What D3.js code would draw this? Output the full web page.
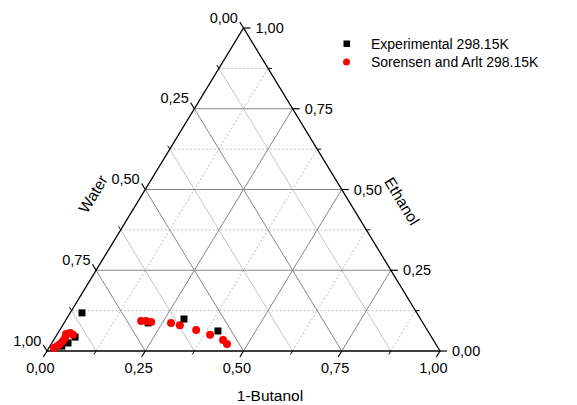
<!DOCTYPE html>
<html>
<head>
<meta charset="utf-8">
<script src="https://cdn.jsdelivr.net/npm/d3@7"></script>
<style>
  body { margin: 0; background: #fff; }
  text { font-family: "Liberation Sans", Arial, sans-serif; font-size: 14.5px; fill: #000; }
  .title { font-size: 15.5px; }
  .legend text { font-size: 14px; }
</style>
</head>
<body>
<div id="chart-area"></div>
<script>
// ternary compositions (mass fractions)
const expButanol = [0.030, 0.299, 0.404, 0.214, 0.050, 0.041, 0.030];
const expEthanol = [0.118, 0.099, 0.062, 0.087, 0.043, 0.025, 0.015];
const expWater   = [0.852, 0.602, 0.534, 0.699, 0.907, 0.934, 0.955];

const sorButanol = [0.013, 0.018, 0.022, 0.025, 0.026, 0.022, 0.031, 0.041,
                    0.193, 0.206, 0.220, 0.272, 0.298, 0.347, 0.390, 0.431, 0.447];
const sorEthanol = [0.009, 0.015, 0.022, 0.031, 0.040, 0.053, 0.056, 0.050,
                    0.093, 0.093, 0.090, 0.087, 0.080, 0.065, 0.050, 0.034, 0.022];
const sorWater   = [0.978, 0.967, 0.956, 0.944, 0.934, 0.925, 0.913, 0.909,
                    0.714, 0.701, 0.690, 0.641, 0.622, 0.588, 0.560, 0.535, 0.531];

const majorTicks = [0, 0.25, 0.5, 0.75, 1];
const minorTicks = [0.125, 0.375, 0.625, 0.875];
const gridMajor = [0.25, 0.5, 0.75];

const legendLabels = ['Experimental 298.15K', 'Sorensen and Arlt 298.15K'];

const width = 577;
const height = 405;

const x = d3.scaleLinear().domain([0, 1]).range([47, 440]);
const y = d3.scaleLinear().domain([0, 1]).range([351, 28]);

// butanol = bottom axis, ethanol = right axis, water = left axis
const pt = (b, e) => [x(b + e / 2), y(e)];

const fmt = d3.formatLocale({ decimal: ',', thousands: '.', grouping: [3], currency: ['', ''] }).format('.2f');

const svg = d3.select('#chart-area').append('svg')
  .attr('width', width)
  .attr('height', height);

// grid lines
const lineB = v => [pt(v, 0), pt(v, 1 - v)];
const lineE = v => [pt(0, v), pt(1 - v, v)];
const lineW = v => [pt(1 - v, 0), pt(0, 1 - v)];
const line = d3.line();

const grid = svg.append('g').attr('fill', 'none');

grid.selectAll('.wmin').data(minorTicks).enter().append('path')
  .attr('d', d => line(lineW(d)))
  .attr('stroke', '#c4c4c4');
grid.selectAll('.bmin').data(minorTicks).enter().append('path')
  .attr('d', d => line(lineB(d)))
  .attr('stroke', '#bdbdbd')
  .attr('stroke-dasharray', '2,2');
grid.selectAll('.emin').data(minorTicks).enter().append('path')
  .attr('d', d => line(lineE(d)))
  .attr('stroke', '#bdbdbd')
  .attr('stroke-dasharray', '2,2');

[lineB, lineE, lineW].forEach(fn => {
  grid.append('g').selectAll('path').data(gridMajor).enter().append('path')
    .attr('d', d => line(fn(d)))
    .attr('stroke', '#868686');
});

// triangle frame
svg.append('path')
  .attr('d', line([pt(0, 0), pt(1, 0), pt(0, 1)]) + 'Z')
  .attr('fill', 'none')
  .attr('stroke', '#000')
  .attr('stroke-width', 1.3);

// axes: ticks and labels
const dl = Math.hypot(x(0.5) - x(0), y(1) - y(0));
const ux = (x(0.5) - x(0)) / dl, uy = (y(1) - y(0)) / dl;

const axes = [
  { pos: v => pt(v, 0),     dir: [-ux, -uy], anchor: 'middle', off: [-3, 16.5] },
  { pos: v => pt(1 - v, v), dir: [1, 0],     anchor: 'start',  off: [5, 5] },
  { pos: v => pt(0, 1 - v), dir: [-ux, uy],  anchor: 'end',    off: [-2, 0.5] }
];

axes.forEach(a => {
  const g = svg.append('g');
  g.selectAll('.maj').data(majorTicks).enter().append('line')
    .attr('x1', d => a.pos(d)[0]).attr('y1', d => a.pos(d)[1])
    .attr('x2', d => a.pos(d)[0] + a.dir[0] * 7).attr('y2', d => a.pos(d)[1] + a.dir[1] * 7)
    .attr('stroke', '#000').attr('stroke-width', 1.2);
  g.selectAll('.min').data(minorTicks).enter().append('line')
    .attr('x1', d => a.pos(d)[0]).attr('y1', d => a.pos(d)[1])
    .attr('x2', d => a.pos(d)[0] + a.dir[0] * 4).attr('y2', d => a.pos(d)[1] + a.dir[1] * 4)
    .attr('stroke', '#000').attr('stroke-width', 1);
  g.selectAll('text').data(majorTicks).enter().append('text')
    .attr('x', d => a.pos(d)[0] + a.dir[0] * 7 + a.off[0])
    .attr('y', d => a.pos(d)[1] + a.dir[1] * 7 + a.off[1])
    .attr('text-anchor', a.anchor)
    .text(fmt);
});

// axis titles
const ang = Math.atan2(y(0) - y(1), x(0.5) - x(0)) * 180 / Math.PI;
svg.append('text').attr('class', 'title')
  .attr('x', 270).attr('y', 401).attr('text-anchor', 'middle').text('1-Butanol');
svg.append('text').attr('class', 'title')
  .attr('transform', `translate(93,194) rotate(${-ang})`)
  .attr('text-anchor', 'middle').attr('dominant-baseline', 'central')
  .text('Water');
svg.append('text').attr('class', 'title')
  .attr('transform', `translate(402,201) rotate(${ang})`)
  .attr('text-anchor', 'middle').attr('dominant-baseline', 'central')
  .text('Ethanol');

// data
const expData = expButanol.map((b, i) => ({ b, e: expEthanol[i], w: expWater[i] }));
const sorData = sorButanol.map((b, i) => ({ b, e: sorEthanol[i], w: sorWater[i] }));

svg.append('g').selectAll('rect').data(expData).enter().append('rect')
  .attr('x', d => pt(d.b, d.e)[0] - 3.5)
  .attr('y', d => pt(d.b, d.e)[1] - 3.5)
  .attr('width', 7).attr('height', 7)
  .attr('fill', '#000');

svg.append('g').selectAll('circle').data(sorData).enter().append('circle')
  .attr('cx', d => pt(d.b, d.e)[0])
  .attr('cy', d => pt(d.b, d.e)[1])
  .attr('r', 4)
  .attr('fill', '#ff0000');

// legend
const legend = svg.append('g').attr('class', 'legend');
legend.append('rect').attr('x', 343.5).attr('y', 40.5).attr('width', 6.5).attr('height', 6.5).attr('fill', '#000');
legend.append('circle').attr('cx', 346.5).attr('cy', 62).attr('r', 3.5).attr('fill', '#ff0000');
legend.selectAll('text').data(legendLabels).enter().append('text')
  .attr('x', 371)
  .attr('y', (d, i) => 48.5 + i * 18)
  .text(d => d);
</script>
</body>
</html>
